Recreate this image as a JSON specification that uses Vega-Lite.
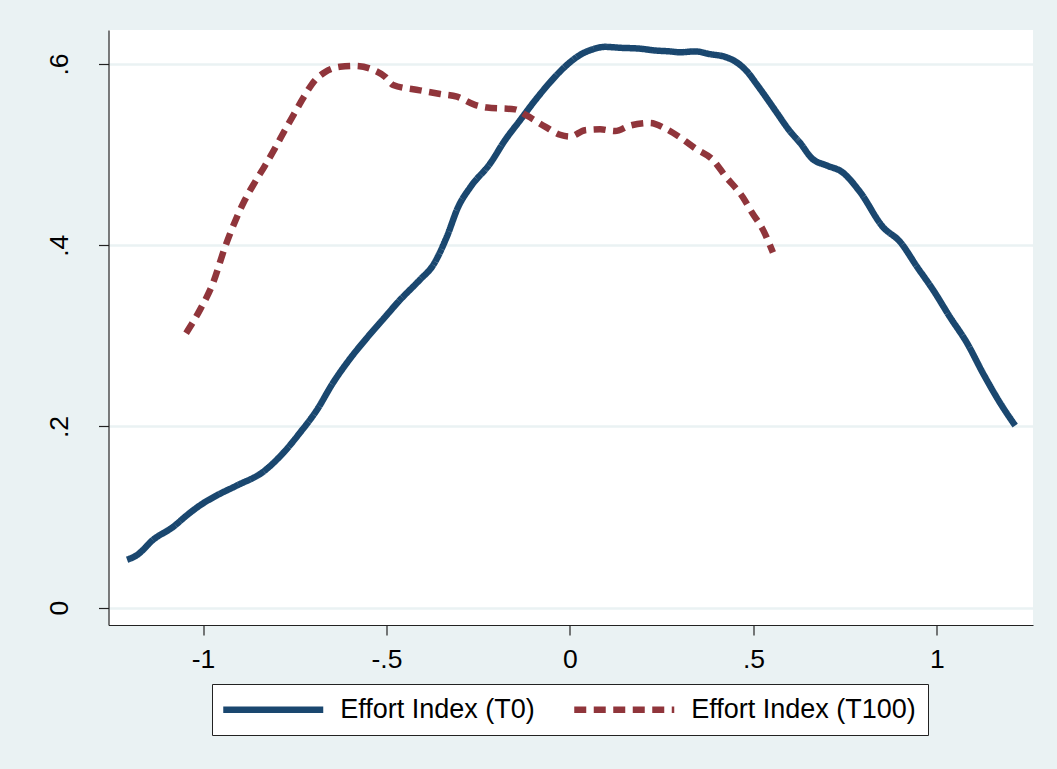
{
  "$schema": "https://vega.github.io/schema/vega-lite/v6.json",
  "width": 924.5,
  "height": 595,
  "autosize": {"type": "none"},
  "padding": {"left": 108.5, "top": 30, "right": 24, "bottom": 144},
  "background": "#EAF2F3",
  "view": {"fill": "white", "stroke": null},
  "datasets": {
    "t0": [
      {"x": -1.207, "y": 0.053}, {"x": -1.180, "y": 0.058}, {"x": -1.136, "y": 0.075}, {"x": -1.082, "y": 0.089},
      {"x": -1.044, "y": 0.102}, {"x": -1.008, "y": 0.113}, {"x": -0.962, "y": 0.124}, {"x": -0.907, "y": 0.135},
      {"x": -0.836, "y": 0.150}, {"x": -0.781, "y": 0.171}, {"x": -0.736, "y": 0.193}, {"x": -0.690, "y": 0.218},
      {"x": -0.646, "y": 0.248}, {"x": -0.599, "y": 0.275}, {"x": -0.555, "y": 0.297}, {"x": -0.510, "y": 0.318},
      {"x": -0.467, "y": 0.338}, {"x": -0.409, "y": 0.362}, {"x": -0.373, "y": 0.378}, {"x": -0.335, "y": 0.410},
      {"x": -0.305, "y": 0.442}, {"x": -0.270, "y": 0.465}, {"x": -0.218, "y": 0.490}, {"x": -0.177, "y": 0.516},
      {"x": -0.136, "y": 0.538}, {"x": -0.095, "y": 0.560}, {"x": -0.054, "y": 0.580}, {"x": -0.014, "y": 0.597},
      {"x": 0.027, "y": 0.610}, {"x": 0.068, "y": 0.617}, {"x": 0.095, "y": 0.619}, {"x": 0.136, "y": 0.618},
      {"x": 0.191, "y": 0.617}, {"x": 0.232, "y": 0.615}, {"x": 0.272, "y": 0.614}, {"x": 0.300, "y": 0.613},
      {"x": 0.341, "y": 0.614}, {"x": 0.381, "y": 0.611}, {"x": 0.422, "y": 0.608}, {"x": 0.450, "y": 0.603},
      {"x": 0.482, "y": 0.592}, {"x": 0.510, "y": 0.577}, {"x": 0.540, "y": 0.560}, {"x": 0.564, "y": 0.546},
      {"x": 0.599, "y": 0.526}, {"x": 0.627, "y": 0.513}, {"x": 0.659, "y": 0.496}, {"x": 0.700, "y": 0.488},
      {"x": 0.741, "y": 0.481}, {"x": 0.790, "y": 0.459}, {"x": 0.853, "y": 0.420}, {"x": 0.899, "y": 0.404},
      {"x": 0.946, "y": 0.376}, {"x": 0.989, "y": 0.351}, {"x": 1.035, "y": 0.321}, {"x": 1.082, "y": 0.292},
      {"x": 1.125, "y": 0.259}, {"x": 1.172, "y": 0.226}, {"x": 1.213, "y": 0.201}
    ],
    "t100": [
      {"x": -1.046, "y": 0.303}, {"x": -1.008, "y": 0.329}, {"x": -0.973, "y": 0.358}, {"x": -0.940, "y": 0.398},
      {"x": -0.913, "y": 0.426}, {"x": -0.886, "y": 0.450}, {"x": -0.858, "y": 0.470},
      {"x": -0.831, "y": 0.488}, {"x": -0.804, "y": 0.507}, {"x": -0.777, "y": 0.527}, {"x": -0.749, "y": 0.547},
      {"x": -0.722, "y": 0.566}, {"x": -0.695, "y": 0.582}, {"x": -0.668, "y": 0.591}, {"x": -0.627, "y": 0.597},
      {"x": -0.586, "y": 0.598}, {"x": -0.545, "y": 0.595}, {"x": -0.504, "y": 0.586}, {"x": -0.482, "y": 0.577},
      {"x": -0.409, "y": 0.571}, {"x": -0.354, "y": 0.567}, {"x": -0.308, "y": 0.564}, {"x": -0.259, "y": 0.555},
      {"x": -0.226, "y": 0.552}, {"x": -0.150, "y": 0.550}, {"x": -0.117, "y": 0.543}, {"x": -0.068, "y": 0.531},
      {"x": -0.027, "y": 0.522}, {"x": 0.0, "y": 0.520}, {"x": 0.041, "y": 0.527}, {"x": 0.082, "y": 0.528},
      {"x": 0.123, "y": 0.526}, {"x": 0.163, "y": 0.532}, {"x": 0.218, "y": 0.535}, {"x": 0.259, "y": 0.529},
      {"x": 0.300, "y": 0.519}, {"x": 0.341, "y": 0.507}, {"x": 0.390, "y": 0.494}, {"x": 0.422, "y": 0.477},
      {"x": 0.471, "y": 0.453}, {"x": 0.496, "y": 0.436}, {"x": 0.526, "y": 0.417}, {"x": 0.553, "y": 0.392}
    ]
  },
  "data": {"name": "t0"},
  "transform": [
    {"calculate": "'Effort Index (T0)'", "as": "series"}
  ],
  "layer": [
    {
      "mark": {"type": "line", "strokeWidth": 6.5, "interpolate": "monotone"},
      "encoding": {
        "x": {"field": "x", "type": "quantitative"},
        "y": {"field": "y", "type": "quantitative"},
        "color": {"field": "series", "type": "nominal"},
        "strokeDash": {"field": "series", "type": "nominal"}
      }
    },
    {
      "data": {"name": "t100"},
      "transform": [
        {"calculate": "'Effort Index (T100)'", "as": "series"}
      ],
      "mark": {"type": "line", "strokeWidth": 6.5, "interpolate": "monotone"},
      "encoding": {
        "x": {"field": "x", "type": "quantitative"},
        "y": {"field": "y", "type": "quantitative"},
        "color": {"field": "series", "type": "nominal"},
        "strokeDash": {"field": "series", "type": "nominal"}
      }
    }
  ],
  "resolve": {"scale": {"color": "shared", "strokeDash": "shared"}},
  "encoding": {
    "x": {
      "field": "x", "type": "quantitative",
      "scale": {"domain": [-1.2575, 1.2616], "nice": false, "zero": false},
      "axis": {
        "title": null, "values": [-1, -0.5, 0, 0.5, 1], "grid": false,
        "labelExpr": "replace(toString(datum.value), '0.', '.')",
        "tickSize": 10, "labelPadding": 11, "labelBaseline": "top"
      }
    },
    "y": {
      "field": "y", "type": "quantitative",
      "scale": {"domain": [-0.0191, 0.6376], "nice": false, "zero": false},
      "axis": {
        "title": null, "values": [0, 0.2, 0.4, 0.6], "grid": true,
        "labelExpr": "replace(toString(datum.value), '0.', '.')",
        "tickSize": 10, "labelAngle": -90, "labelAlign": "center",
        "labelBaseline": "alphabetic", "labelPadding": 31
      }
    },
    "color": {
      "field": "series", "type": "nominal",
      "scale": {"domain": ["Effort Index (T0)", "Effort Index (T100)"], "range": ["#1A476F", "#90353B"]},
      "legend": {"title": null}
    },
    "strokeDash": {
      "field": "series", "type": "nominal",
      "scale": {"domain": ["Effort Index (T0)", "Effort Index (T100)"], "range": [[1, 0], [12, 7.5]]},
      "legend": {"title": null}
    }
  },
  "config": {
    "font": "Liberation Sans",
    "axis": {
      "labelFont": "Liberation Sans", "labelFontSize": 26.5, "labelColor": "#000000",
      "domainColor": "#222222", "domainWidth": 1.2, "tickColor": "#222222", "tickWidth": 1.2,
      "gridColor": "#EAF2F3", "gridWidth": 2.3, "gridOpacity": 1
    },
    "legend": {
      "orient": "none", "legendX": 103.5, "legendY": 654,
      "direction": "horizontal",
      "fillColor": "white", "strokeColor": "#222222",
      "padding": 12,
      "symbolType": "M-5,0H5", "symbolSize": 400, "symbolStrokeWidth": 6.5,
      "symbolOffset": 35.75,
      "labelFont": "Liberation Sans", "labelFontSize": 27, "labelColor": "#000000",
      "labelOffset": 53.5, "columnPadding": 26, "labelLimit": 500
    }
  }
}
